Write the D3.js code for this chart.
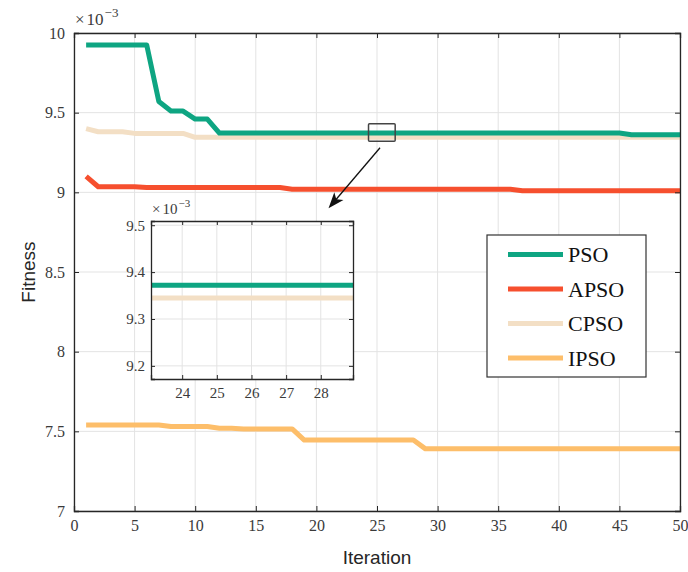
<!DOCTYPE html>
<html><head><meta charset="utf-8">
<script src="https://cdn.jsdelivr.net/npm/d3@7"></script>
<style>body{margin:0;background:#fff}</style>
</head><body>
<svg id="c" width="688" height="572"></svg>
<script>
const iterations = d3.range(1, 51);
const psoVals = [9.925,9.925,9.925,9.925,9.925,9.925,9.57,9.51,9.51,9.46,9.46,9.372,9.372,9.372,9.372,9.372,9.372,9.372,9.372,9.372,9.372,9.372,9.372,9.372,9.372,9.372,9.372,9.372,9.372,9.372,9.372,9.372,9.372,9.372,9.372,9.372,9.372,9.372,9.372,9.372,9.372,9.372,9.372,9.372,9.372,9.362,9.362,9.362,9.362,9.362];
const apsoVals = [9.10,9.035,9.035,9.035,9.035,9.03,9.03,9.03,9.03,9.03,9.03,9.03,9.03,9.03,9.03,9.03,9.03,9.02,9.02,9.02,9.02,9.02,9.02,9.02,9.02,9.02,9.02,9.02,9.02,9.02,9.02,9.02,9.02,9.02,9.02,9.02,9.01,9.01,9.01,9.01,9.01,9.01,9.01,9.01,9.01,9.01,9.01,9.01,9.01,9.01];
const cpsoVals = [9.40,9.38,9.38,9.38,9.37,9.37,9.37,9.37,9.37,9.345,9.345,9.345,9.345,9.345,9.345,9.345,9.345,9.345,9.345,9.345,9.345,9.345,9.345,9.345,9.345,9.345,9.345,9.345,9.345,9.345,9.345,9.345,9.345,9.345,9.345,9.345,9.345,9.345,9.345,9.345,9.345,9.345,9.345,9.345,9.345,9.345,9.345,9.345,9.345,9.345];
const ipsoVals = [7.54,7.54,7.54,7.54,7.54,7.54,7.54,7.53,7.53,7.53,7.53,7.52,7.52,7.515,7.515,7.515,7.515,7.515,7.445,7.445,7.445,7.445,7.445,7.445,7.445,7.445,7.445,7.445,7.39,7.39,7.39,7.39,7.39,7.39,7.39,7.39,7.39,7.39,7.39,7.39,7.39,7.39,7.39,7.39,7.39,7.39,7.39,7.39,7.39,7.39];
const seriesNames = ["PSO","APSO","CPSO","IPSO"];
const seriesColors = ["#0ea582","#f64f2e","#f3dfc5","#fdbe6a"];
const xTicks = [0,5,10,15,20,25,30,35,40,45,50];
const yTicks = [7,7.5,8,8.5,9,9.5,10];
const insetXTicks = [24,25,26,27,28];
const insetYTicks = [9.2,9.3,9.4,9.5];

const allVals = [psoVals, apsoVals, cpsoVals, ipsoVals];
const series = seriesNames.map((n,i)=>({name:n,color:seriesColors[i],pts:iterations.map((it,j)=>[it,allVals[i][j]])}));

const svg = d3.select("#c");
const L=74,R=680,T=33,B=511;
const x = d3.scaleLinear().domain([0,50]).range([L,R]);
const y = d3.scaleLinear().domain([7,10]).range([B,T]);
const axisCol="#262626", gridCol="#e3e3e3";
const serif="'Liberation Serif','DejaVu Serif',serif";

// grid
const g = svg.append("g");
g.selectAll(".gx").data(xTicks).join("line").attr("x1",d=>x(d)).attr("x2",d=>x(d)).attr("y1",T).attr("y2",B).attr("stroke",gridCol).attr("stroke-width",1);
g.selectAll(".gy").data(yTicks).join("line").attr("y1",d=>y(d)).attr("y2",d=>y(d)).attr("x1",L).attr("x2",R).attr("stroke",gridCol).attr("stroke-width",1);

// lines
const line = d3.line().x(d=>x(d[0])).y(d=>y(d[1]));
const order=[3,2,1,0];
order.forEach(i=>{
  svg.append("path").attr("d",line(series[i].pts)).attr("fill","none").attr("stroke",series[i].color).attr("stroke-width",5).attr("stroke-linejoin","round");
});

// axes
const axes=[];
axes.push(svg.append("g").attr("transform",`translate(0,${B})`).call(d3.axisBottom(x).tickValues(xTicks).tickSize(-5).tickPadding(9)));
axes.push(svg.append("g").attr("transform",`translate(${L},0)`).call(d3.axisLeft(y).tickValues(yTicks).tickSize(-5).tickPadding(9).tickFormat(d=>String(d))));
axes.push(svg.append("g").attr("transform",`translate(0,${T})`).call(d3.axisTop(x).tickValues(xTicks).tickSize(-5).tickFormat("")));
axes.push(svg.append("g").attr("transform",`translate(${R},0)`).call(d3.axisRight(y).tickValues(yTicks).tickSize(-5).tickFormat("")));
axes.forEach(a=>a.attr("font-family",serif).attr("font-size",16).style("font-family",serif));
svg.selectAll(".domain").attr("stroke",axisCol).attr("stroke-width",1.3);
svg.selectAll(".tick line").attr("stroke",axisCol);
svg.selectAll(".tick text").style("font-family",serif).style("font-size","16px").attr("fill","#3a3a3a");

// exponent
const ex = svg.append("text").attr("x",L+1).attr("y",25).style("font-family",serif).style("font-size","17px").attr("fill","#3a3a3a");
ex.append("tspan").text("×");
ex.append("tspan").attr("dx",2).text("10");
ex.append("tspan").attr("dx",1).attr("dy",-8).style("font-size","13px").text("−3");

// axis labels
svg.append("text").attr("x",(L+R)/2).attr("y",564).attr("text-anchor","middle").style("font-family","'Liberation Sans',Arial,sans-serif").attr("font-size",19).attr("fill","#262626").text("Iteration");
svg.append("text").attr("transform",`translate(35,${(T+B)/2}) rotate(-90)`).attr("text-anchor","middle").style("font-family","'Liberation Sans',Arial,sans-serif").attr("font-size",19).attr("fill","#262626").text("Fitness");

// zoom rectangle and arrow
svg.append("rect").attr("x",x(24.3)).attr("y",y(9.43)).attr("width",x(26.5)-x(24.3)).attr("height",y(9.32)-y(9.43)).attr("fill","none").attr("stroke","#444").attr("stroke-width",1.5).attr("rx",1);
const ax1=x(25.25), ay1=y(9.28), ax2=x(21.0), ay2=y(8.9);
svg.append("line").attr("x1",ax1).attr("y1",ay1).attr("x2",ax2+6).attr("y2",ay2-7).attr("stroke","#111").attr("stroke-width",1.3);
{
  const ang=Math.atan2(ay2-ay1,ax2-ax1), len=16, w=6;
  const bx=ax2-len*Math.cos(ang), by=ay2-len*Math.sin(ang);
  const px=-Math.sin(ang)*w, py=Math.cos(ang)*w;
  svg.append("path").attr("d",`M${ax2},${ay2}L${bx+px},${by+py}L${bx+len*0.25*Math.cos(ang)},${by+len*0.25*Math.sin(ang)}L${bx-px},${by-py}Z`).attr("fill","#111");
}

// inset
const iL=151,iR=353,iT=221,iB=379;
const ix=d3.scaleLinear().domain([23.1,28.93]).range([iL,iR]);
const iy=d3.scaleLinear().domain([9.172,9.509]).range([iB,iT]);
const ins=svg.append("g");
ins.append("rect").attr("x",iL).attr("y",iT).attr("width",iR-iL).attr("height",iB-iT).attr("fill","#fff");
ins.selectAll(".igx").data(insetXTicks).join("line").attr("x1",d=>ix(d)).attr("x2",d=>ix(d)).attr("y1",iT).attr("y2",iB).attr("stroke",gridCol);
ins.selectAll(".igy").data(insetYTicks).join("line").attr("y1",d=>iy(d)).attr("y2",d=>iy(d)).attr("x1",iL).attr("x2",iR).attr("stroke",gridCol);
svg.append("clipPath").attr("id","ic").append("rect").attr("x",iL).attr("y",iT).attr("width",iR-iL).attr("height",iB-iT);
const iline=d3.line().x(d=>ix(d[0])).y(d=>iy(d[1]));
[2,0].forEach(i=>{
  ins.append("path").attr("clip-path","url(#ic)").attr("d",iline(series[i].pts)).attr("fill","none").attr("stroke",series[i].color).attr("stroke-width",5);
});
ins.append("g").attr("transform",`translate(0,${iB})`).call(d3.axisBottom(ix).tickValues(insetXTicks).tickSize(-4).tickPadding(8).tickFormat(d3.format("d")));
ins.append("g").attr("transform",`translate(${iL},0)`).call(d3.axisLeft(iy).tickValues(insetYTicks).tickSize(-4).tickPadding(6).tickFormat(d3.format(".1f")));
ins.append("g").attr("transform",`translate(0,${iT})`).call(d3.axisTop(ix).tickValues(insetXTicks).tickSize(-4).tickFormat(""));
ins.append("g").attr("transform",`translate(${iR},0)`).call(d3.axisRight(iy).tickValues(insetYTicks).tickSize(-4).tickFormat(""));
ins.selectAll(".domain").attr("stroke",axisCol).attr("stroke-width",1.3);
ins.selectAll(".tick line").attr("stroke",axisCol);
ins.selectAll(".tick text").style("font-family",serif).style("font-size","15px").attr("fill","#3a3a3a");
const iex = ins.append("text").attr("x",iL+1).attr("y",214).style("font-family",serif).style("font-size","15px").attr("fill","#3a3a3a");
iex.append("tspan").text("×");
iex.append("tspan").attr("dx",2).text("10");
iex.append("tspan").attr("dx",1).attr("dy",-7).style("font-size","11px").text("−3");

// legend
const lg=svg.append("g");
lg.append("rect").attr("x",487).attr("y",235).attr("width",159).attr("height",142).attr("fill","#fff").attr("stroke","#333").attr("stroke-width",1.2);
series.forEach((s,i)=>{
  const yy=254.5+i*34.5;
  lg.append("line").attr("x1",508).attr("x2",563).attr("y1",yy).attr("y2",yy).attr("stroke",s.color).attr("stroke-width",5);
  lg.append("text").attr("x",568).attr("y",yy+7.5).style("font-family",serif).attr("font-size",22).attr("fill","#111").text(s.name);
});
</script>
</body></html>
